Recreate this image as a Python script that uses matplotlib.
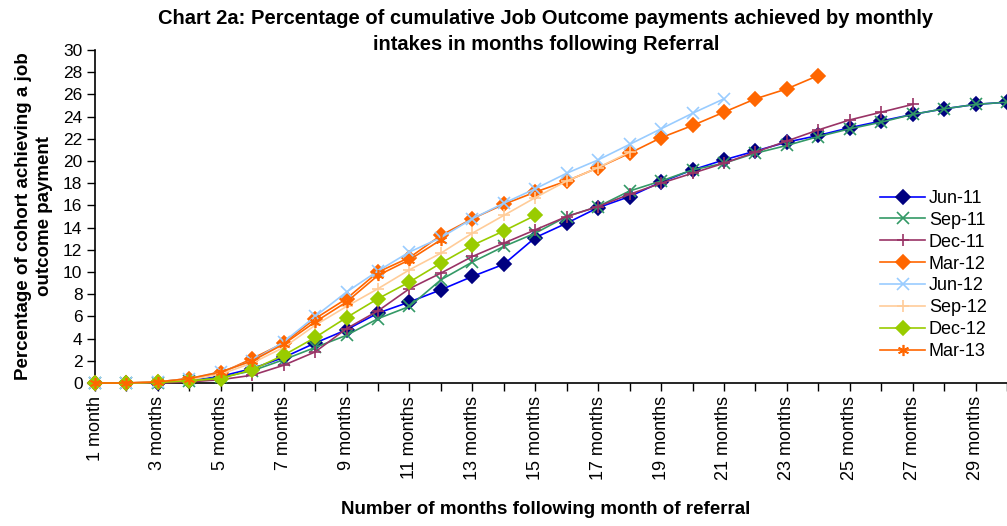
import matplotlib
matplotlib.use("Agg")
import matplotlib.pyplot as plt

# months following referral (1..30)
months = list(range(1, 31))
tick_labels = ["1 month"] + ["%d months" % m for m in range(2, 31)]

# cumulative % of cohort achieving a job outcome payment
jun11 = [0, 0, 0, 0.2, 0.6, 1.3, 2.3, 3.6, 4.8, 6.3, 7.3, 8.4, 9.6, 10.7, 13.1,
         14.4, 15.8, 16.8, 18.1, 19.2, 20.1, 20.9, 21.7, 22.3, 23.0, 23.6, 24.2, 24.7, 25.1, 25.3]
sep11 = [0, 0, 0, 0.2, 0.5, 1.1, 2.1, 3.2, 4.3, 5.8, 6.9, 9.3, 10.9, 12.3, 13.5,
         15.0, 15.9, 17.3, 18.2, 19.2, 19.8, 20.7, 21.4, 22.2, 22.9, 23.5, 24.2, 24.7, 25.1, 25.3]
dec11 = [0, 0, 0, 0.1, 0.3, 0.7, 1.6, 2.8, 4.9, 6.5, 8.5, 9.9, 11.4, 12.6, 13.8,
         15.0, 15.9, 17.0, 18.0, 18.9, 19.8, 20.8, 21.8, 22.8, 23.7, 24.4, 25.1]
mar12 = [0, 0, 0.1, 0.4, 0.9, 2.2, 3.6, 5.8, 7.6, 10.0, 11.3, 13.3, 14.8, 16.1, 17.2,
         18.2, 19.4, 20.7, 22.1, 23.2, 24.4, 25.6, 26.5, 27.7]
jun12 = [0, 0, 0.1, 0.4, 1.0, 2.0, 3.7, 6.0, 8.2, 10.1, 11.8, 13.1, 14.8, 16.2, 17.5,
         18.9, 20.1, 21.5, 22.9, 24.3, 25.6]
sep12 = [0, 0, 0.1, 0.3, 0.8, 1.8, 3.2, 5.2, 6.9, 8.5, 10.2, 11.7, 13.5, 15.1, 16.7,
         18.2, 19.4, 20.8]
dec12 = [0, 0, 0.05, 0.2, 0.4, 1.2, 2.5, 4.1, 5.9, 7.6, 9.1, 10.8, 12.4, 13.7, 15.1]
mar13 = [0, 0, 0.1, 0.4, 1.0, 2.0, 3.5, 5.5, 7.3, 9.7, 11.1, 12.9]

series = [
    ("Jun-11", jun11, "#0000FF", "#000080", "D"),
    ("Sep-11", sep11, "#339966", "#339966", "x"),
    ("Dec-11", dec11, "#993366", "#993366", "+"),
    ("Mar-12", mar12, "#FF6600", "#FF6600", "D"),
    ("Jun-12", jun12, "#99CCFF", "#99CCFF", "x"),
    ("Sep-12", sep12, "#FFCC99", "#FFCC99", "+"),
    ("Dec-12", dec12, "#99CC00", "#99CC00", "D"),
    ("Mar-13", mar13, "#FF6600", "#FF6600", (6, 2, 0)),
]

plt.rcParams['font.family'] = ['Liberation Sans', 'DejaVu Sans']

fig = plt.figure(figsize=(10.07, 5.26), dpi=100)
ax = fig.add_axes([95 / 1007, 1 - 383 / 526, 1 - 95 / 1007, (383 - 50) / 526])

for name, vals, lc, mc, mk in series:
    ms = 7 if mk == "D" else 8
    ax.plot(months[:len(vals)], vals, color=lc, linewidth=1.2, marker=mk,
            markersize=ms, markerfacecolor=mc, markeredgecolor=mc,
            markeredgewidth=1.2, label=name, clip_on=False, zorder=3)

ax.set_xlim(1, 30)
ax.set_ylim(0, 30)
ax.set_yticks(range(0, 31, 2))
ax.set_xticks(months)
# only every other month is labelled
ax.set_xticklabels([lab if m % 2 == 1 else "" for m, lab in zip(months, tick_labels)],
                   rotation=90)
ax.tick_params(axis='x', labelsize=13, direction='out', length=6, width=1)
ax.tick_params(axis='y', labelsize=12.5, direction='out', length=6, width=1, pad=3)
ax.spines['top'].set_visible(False)
ax.spines['right'].set_visible(False)
ax.spines['left'].set_linewidth(1.2)
ax.spines['bottom'].set_linewidth(1.2)

fig.text(0.542, 1 - 19 / 526, "Chart 2a: Percentage of cumulative Job Outcome payments achieved by monthly",
         ha='center', va='center', fontsize=14.5, fontweight='bold')
fig.text(0.542, 1 - 45 / 526, "intakes in months following Referral",
         ha='center', va='center', fontsize=14.5, fontweight='bold')
fig.text(0.542, 1 - 510 / 526, "Number of months following month of referral",
         ha='center', va='center', fontsize=13.5, fontweight='bold')
fig.text(34 / 1007, 1 - 216 / 526, "Percentage of cohort achieving a job\noutcome payment",
         ha='center', va='center', rotation=90, fontsize=13.5, fontweight='bold',
         linespacing=1.3)

ax.legend(loc='center left', bbox_to_anchor=(871 / 1007, 1 - 275 / 526),
          bbox_transform=fig.transFigure, frameon=False, fontsize=13,
          handlelength=2.5, handletextpad=0.2, labelspacing=0.27, borderpad=0)

fig.savefig("out.png", dpi=100)
